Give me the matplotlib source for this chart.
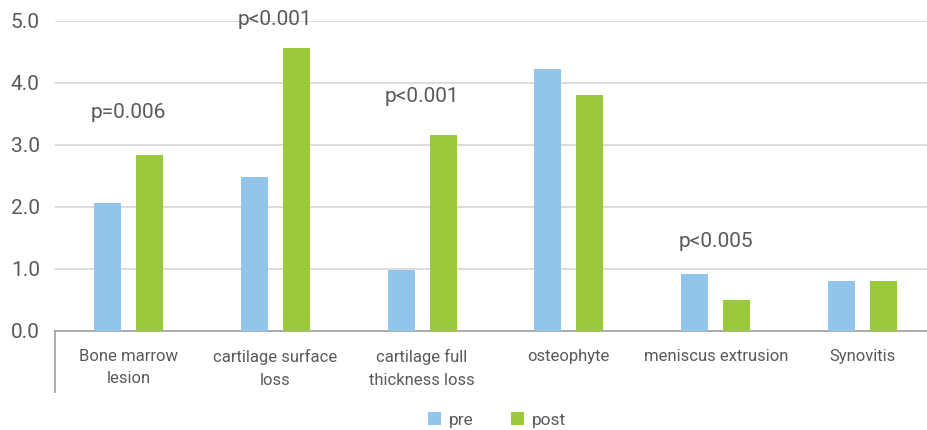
import matplotlib
matplotlib.use("Agg")
import matplotlib.pyplot as plt
import numpy as np

categories = ["Bone marrow\nlesion", "cartilage surface\nloss", "cartilage full\nthickness loss",
              "osteophyte", "meniscus extrusion", "Synovitis"]
pre = [2.06, 2.48, 0.98, 4.23, 0.92, 0.81]
post = [2.84, 4.56, 3.16, 3.81, 0.50, 0.81]
series_names = ["pre", "post"]
annotations = [(0, 3.53, "p=0.006"), (1, 5.02, "p<0.001"), (2, 3.79, "p<0.001"), (4, 1.44, "p<0.005")]
yticks = [0, 1, 2, 3, 4, 5]
ytick_labels = ["0.0", "1.0", "2.0", "3.0", "4.0", "5.0"]

BLUE = "#92C5EA"
GREEN = "#9BC93C"
TXT = "#595959"

plt.rcParams['font.family'] = ['Roboto', 'DejaVu Sans']

fig = plt.figure(figsize=(9.28, 4.30), dpi=100)
W, H = 928, 430
left_px, right_px, top_px, bot_px = 55.1, 935.9, 21, 331
ax = fig.add_axes([left_px / W, (H - bot_px) / H, (right_px - left_px) / W, (bot_px - top_px) / H])

x = np.arange(len(categories))
bw = 0.184
off = 0.143
ax.bar(x - off, pre, bw, color=BLUE, label=series_names[0], zorder=3)
ax.bar(x + off, post, bw, color=GREEN, label=series_names[1], zorder=3)

ax.set_xlim(-0.5, len(categories) - 0.5)
ax.set_ylim(0, 5)
ax.set_yticks(yticks)
ax.set_yticklabels(ytick_labels)
ax.yaxis.grid(True, color="#D9D9D9", linewidth=1.3, zorder=0)
ax.set_axisbelow(True)
for s in ["top", "right", "left"]:
    ax.spines[s].set_visible(False)
ax.spines["bottom"].set_color("#A6A6A6")
ax.spines["bottom"].set_linewidth(1.3)
ax.tick_params(axis="y", length=0, pad=11, labelsize=15, labelcolor=TXT)
ax.tick_params(axis="x", length=0, pad=0)
ax.set_xticks(x)
ax.set_xticklabels([])

for i, c in enumerate(categories):
    ax.annotate(c, xy=(i, 0), xycoords="data", xytext=(0, -13), textcoords="offset points",
                ha="center", va="top", fontsize=12, color=TXT, linespacing=1.62,
                annotation_clip=False)

# left divider line below axis
ax.plot([-0.5, -0.5], [0, -0.985], color="#A6A6A6", linewidth=1.3, clip_on=False, zorder=4)

for i, y, t in annotations:
    ax.text(i, y, t, ha="center", va="center", fontsize=15, color=TXT)

leg = fig.legend(loc="center", bbox_to_anchor=(497 / W, (H - 420) / H), ncol=2, frameon=False,
                 fontsize=12.5, handlelength=0.75, handleheight=0.75, handletextpad=0.5,
                 columnspacing=2.1, labelcolor=TXT)

fig.savefig("out.png", dpi=100)
